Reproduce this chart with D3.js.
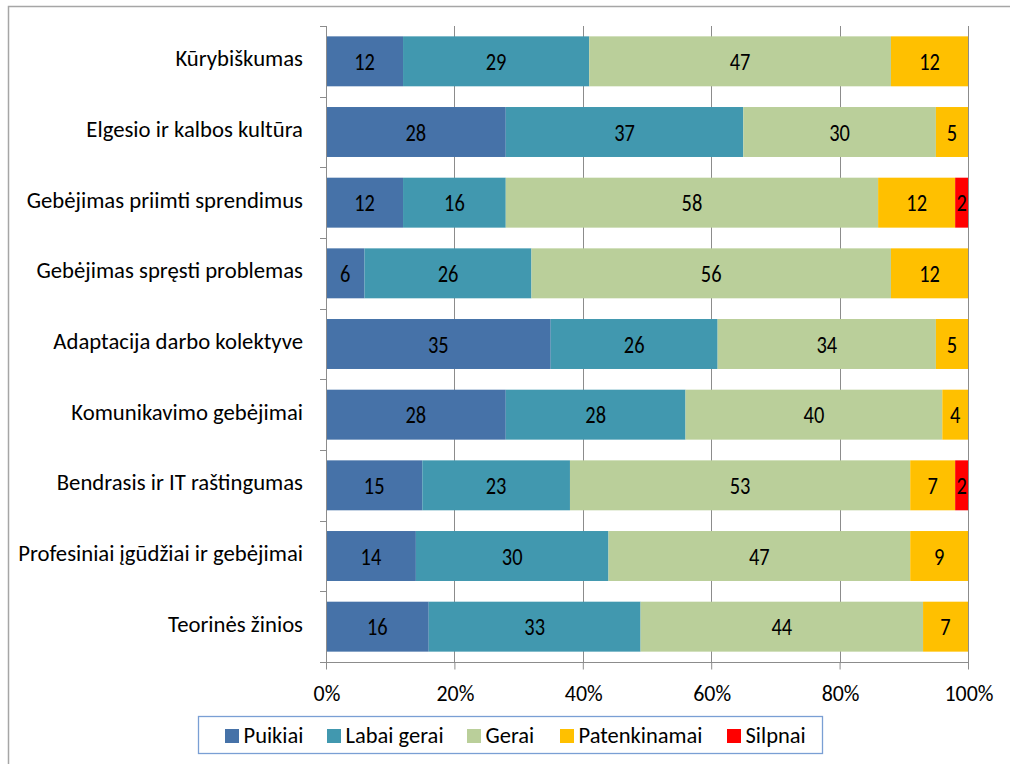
<!DOCTYPE html>
<html><head><meta charset="utf-8">
<script src="https://cdn.jsdelivr.net/npm/d3@7"></script>
<style>
body{margin:0;background:#fff;}
svg{display:block;font-family:Carlito,Lato,sans-serif;}
</style></head>
<body><svg id="c" width="1010" height="764"></svg>
<script>
const categories = ["Kūrybiškumas","Elgesio ir kalbos kultūra","Gebėjimas priimti sprendimus","Gebėjimas spręsti problemas","Adaptacija darbo kolektyve","Komunikavimo gebėjimai","Bendrasis ir IT raštingumas","Profesiniai įgūdžiai ir gebėjimai","Teorinės žinios"];
const seriesNames = ["Puikiai","Labai gerai","Gerai","Patenkinamai","Silpnai"];
const puikiai     = [12,28,12,6,35,28,15,14,16];
const labaiGerai  = [29,37,16,26,26,28,23,30,33];
const gerai       = [47,30,58,56,34,40,53,47,44];
const patenkinamai= [12,5,12,12,5,4,7,9,7];
const silpnai     = [0,0,2,0,0,0,2,0,0];
const xTicks = [0,0.2,0.4,0.6,0.8,1];
const colors = ["#4672A8","#4198AF","#BACF9A","#FFC000","#FF0000"];

const svg = d3.select("#c");
// horizontal scale so a sample string matches the reference's measured width
function fitScale(sample, size, target){
  const t = svg.append("text").attr("font-size",size).text(sample);
  const w = t.node().getComputedTextLength(); t.remove();
  return w>0 ? target/w : 1;
}
svg.append("rect").attr("x",8.5).attr("y",6.5).attr("width",1100).attr("height",1000)
  .attr("fill","none").attr("stroke","#a6a6a6").attr("stroke-width",1.5);

const L=326, R=968, T=26, B=662;
const x = d3.scaleLinear().domain([0,1]).range([L,R]);
const y = d3.scaleBand().domain(categories).range([T,B]).paddingInner(0.293).paddingOuter(0.1465);

const cols=[puikiai,labaiGerai,gerai,patenkinamai,silpnai];
const rows = categories.map((c,i)=>{const o={cat:c}; seriesNames.forEach((s,j)=>o[s]=cols[j][i]); return o;});
const layers = d3.stack().keys(seriesNames).offset(d3.stackOffsetExpand)(rows);

// gridlines
svg.append("g").selectAll("line").data(xTicks.slice(1)).join("line")
  .attr("x1",d=>Math.round(x(d))+0.5).attr("x2",d=>Math.round(x(d))+0.5)
  .attr("y1",T).attr("y2",B).attr("stroke","#8c8c8c").attr("stroke-width",1);

// bars + labels
const vS = fitScale("58",23.5,20.7);
const g = svg.append("g");
layers.forEach((layer,j)=>{
  const dat = layer.filter(d=>d[1]>d[0]);
  g.append("g").selectAll("rect").data(dat).join("rect")
    .attr("x",d=>x(d[0])).attr("width",d=>x(d[1])-x(d[0]))
    .attr("y",d=>y(d.data.cat)).attr("height",y.bandwidth())
    .attr("fill",colors[j]);
  g.append("g").selectAll("text").data(dat).join("text")
    .attr("transform",d=>`translate(${(x(d[0])+x(d[1]))/2},${y(d.data.cat)+y.bandwidth()/2+1}) scale(${vS},1)`)
    .attr("text-anchor","middle").attr("dy","0.322em")
    .attr("font-size",23.5).attr("fill","#000")
    .text(d=>d.data[layer.key]);
});

// y axis
const ya = svg.append("g").attr("transform",`translate(${L+0.5},0)`)
  .call(d3.axisLeft(y).tickSize(0).tickFormat(""));
ya.select(".domain").attr("stroke","#8c8c8c").attr("d",`M0,${T}V${B+7}`);
const seps = d3.range(categories.length+1).map(i=>T+i*y.step());
svg.append("g").selectAll("line").data(seps).join("line")
  .attr("x1",L-6).attr("x2",L).attr("y1",d=>Math.round(d)+0.5).attr("y2",d=>Math.round(d)+0.5)
  .attr("stroke","#8c8c8c");
const cS = fitScale("Profesiniai įgūdžiai ir gebėjimai",23.3,285);
svg.append("g").selectAll("text").data(categories).join("text")
  .attr("transform",d=>`translate(${L-23},${y(d)+y.bandwidth()/2-2.5}) scale(${cS},1)`)
  .attr("text-anchor","end").attr("dy","0.322em")
  .attr("font-size",23.3).attr("fill","#000").text(d=>d);

// x axis
const xa = svg.append("g").attr("transform",`translate(0,${B+0.5})`)
  .call(d3.axisBottom(x).tickValues(xTicks).tickFormat("").tickSize(7));
xa.select(".domain").attr("stroke","#8c8c8c").attr("d",`M${L},0H${R+1}`);
xa.selectAll(".tick line").attr("stroke","#8c8c8c");
const fmt = d3.format(".0%");
const tS = fitScale("100%",22.4,49);
svg.append("g").selectAll("text").data(xTicks).join("text")
  .attr("transform",d=>`translate(${x(d)+1},701) scale(${tS},1)`)
  .attr("text-anchor","middle").attr("font-size",22.4).attr("fill","#000").text(d=>fmt(d));

// legend
const lg = svg.append("g");
lg.append("rect").attr("x",198.5).attr("y",716.5).attr("width",624).attr("height",37)
  .attr("fill","#fff").attr("stroke","#7a9fd4").attr("stroke-width",1.3);
const legX=[225,327,467,560,727];
const lS = fitScale("Patenkinamai",21.8,124);
const items = lg.selectAll("g").data(seriesNames).join("g")
  .attr("transform",(d,i)=>`translate(${legX[i]},729)`);
items.append("rect").attr("width",14).attr("height",14).attr("fill",(d,i)=>colors[i]);
items.append("text").attr("transform",`translate(18.5,14.3) scale(${lS},1)`)
  .attr("font-size",21.8).attr("fill","#000").text(d=>d);
</script></body></html>
